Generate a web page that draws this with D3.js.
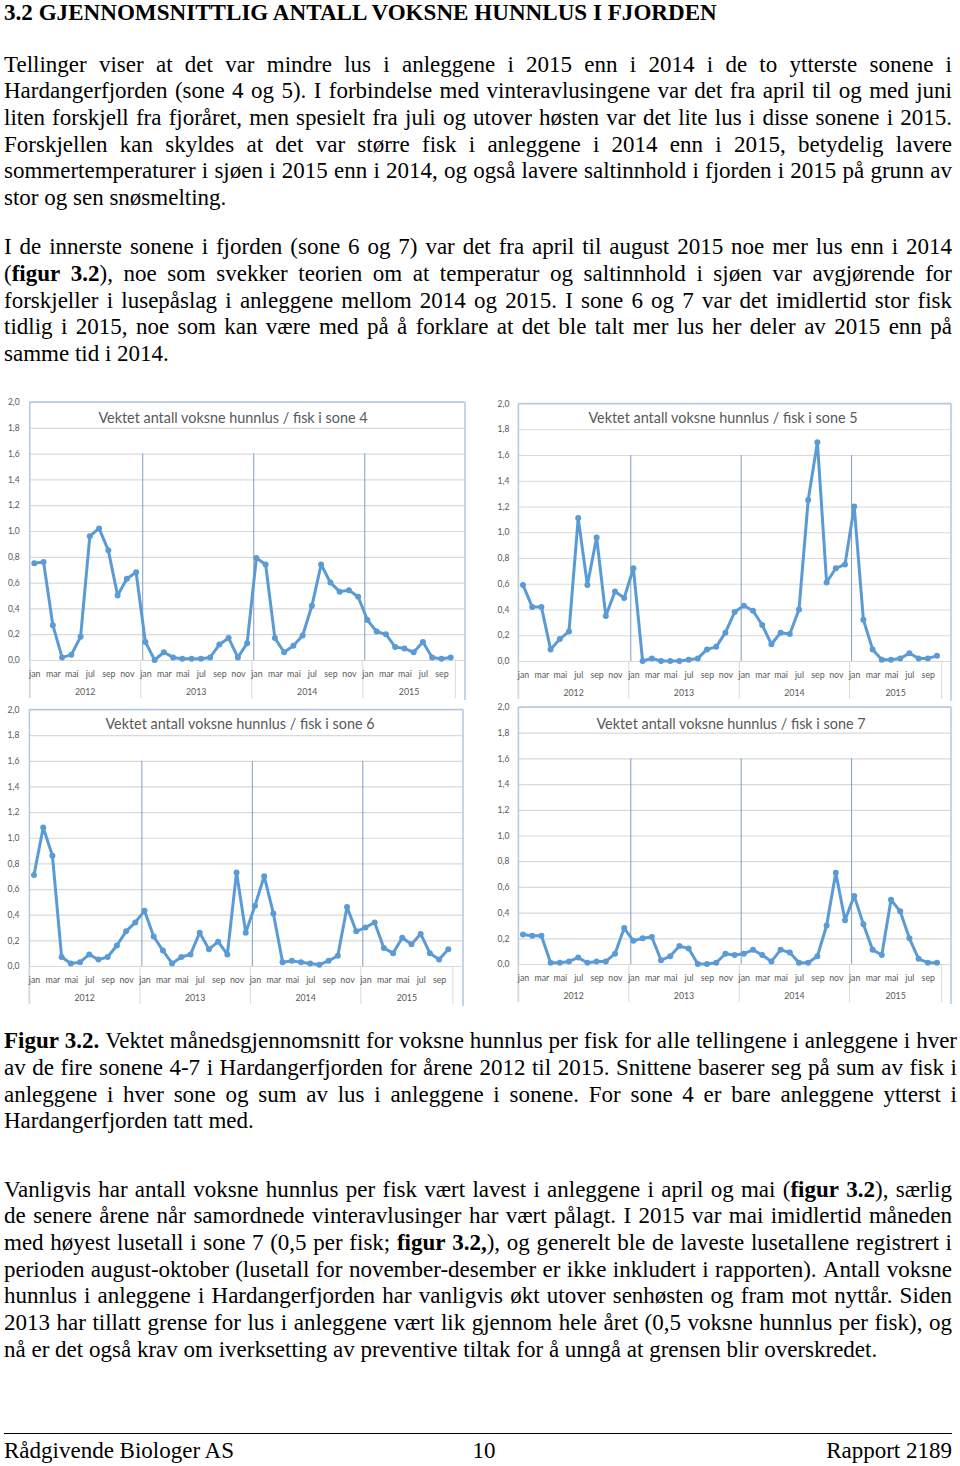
<!DOCTYPE html>
<html><head><meta charset="utf-8">
<script src="https://cdn.jsdelivr.net/npm/d3@7"></script>
<style>body{margin:0;background:#fff}svg{display:block}</style>
</head><body>
<script>
// ---------------- DATA ----------------
const monthNames = ["jan","feb","mar","apr","mai","jun","jul","aug","sep","okt","nov","des"];
const years = ["2012","2013","2014","2015"];
const monthsPerYear = [12,12,12,10];
const yTicks = [0,0.2,0.4,0.6,0.8,1.0,1.2,1.4,1.6,1.8,2.0];
const zones = ["4","5","6","7"];

const sone4 = [0.75,0.76,0.27,0.02,0.04,0.18,0.96,1.02,0.85,0.50,0.63,0.68,
               0.14,0.00,0.06,0.02,0.01,0.01,0.01,0.02,0.12,0.17,0.02,0.13,
               0.79,0.74,0.17,0.06,0.11,0.19,0.42,0.74,0.60,0.53,0.54,0.49,
               0.31,0.22,0.20,0.10,0.09,0.06,0.14,0.02,0.01,0.02];
const sone5 = [0.59,0.42,0.42,0.09,0.17,0.23,1.11,0.59,0.96,0.35,0.54,0.49,
               0.72,0.00,0.02,0.00,0.00,0.00,0.01,0.02,0.09,0.11,0.22,0.38,
               0.43,0.39,0.28,0.13,0.22,0.21,0.40,1.25,1.70,0.61,0.72,0.75,
               1.20,0.32,0.09,0.01,0.01,0.02,0.06,0.02,0.02,0.04];
const sone6 = [0.71,1.08,0.86,0.07,0.02,0.03,0.09,0.05,0.07,0.16,0.27,0.34,
               0.43,0.23,0.12,0.02,0.07,0.09,0.26,0.13,0.19,0.09,0.73,0.26,
               0.47,0.70,0.41,0.03,0.04,0.03,0.02,0.01,0.04,0.08,0.46,0.27,
               0.30,0.34,0.14,0.10,0.22,0.17,0.25,0.10,0.05,0.13];
const sone7 = [0.23,0.22,0.22,0.01,0.01,0.02,0.05,0.01,0.02,0.02,0.08,0.28,
               0.18,0.20,0.21,0.03,0.06,0.14,0.12,0.00,0.00,0.01,0.08,0.07,
               0.08,0.11,0.07,0.02,0.11,0.09,0.01,0.01,0.06,0.30,0.71,0.34,
               0.53,0.31,0.11,0.07,0.50,0.41,0.20,0.04,0.01,0.01];
const seriesList = [sone4, sone5, sone6, sone7];

// ---------------- TEXT ----------------
const heading = "3.2 GJENNOMSNITTLIG ANTALL VOKSNE HUNNLUS I FJORDEN";
const para1 = [
  [["Tellinger viser at det var mindre lus i anleggene i 2015 enn i 2014 i de to ytterste sonene i",0]],
  [["Hardangerfjorden (sone 4 og 5). I forbindelse med vinteravlusingene var det fra april til og med juni",0]],
  [["liten forskjell fra fjoråret, men spesielt fra juli og utover høsten var det lite lus i disse sonene i 2015.",0]],
  [["Forskjellen kan skyldes at det var større fisk i anleggene i 2014 enn i 2015, betydelig lavere",0]],
  [["sommertemperaturer i sjøen i 2015 enn i 2014, og også lavere saltinnhold i fjorden i 2015 på grunn av",0]],
  [["stor og sen snøsmelting.",0]]
];
const para2 = [
  [["I de innerste sonene i fjorden (sone 6 og 7) var det fra april til august 2015 noe mer lus enn i 2014",0]],
  [["(",0],["figur 3.2",1],["), noe som svekker teorien om at temperatur og saltinnhold i sjøen var avgjørende for",0]],
  [["forskjeller i lusepåslag i anleggene mellom 2014 og 2015. I sone 6 og 7 var det imidlertid stor fisk",0]],
  [["tidlig i 2015, noe som kan være med på å forklare at det ble talt mer lus her deler av 2015 enn på",0]],
  [["samme tid i 2014.",0]]
];
const caption = [
  [["Figur 3.2.",1],[" Vektet månedsgjennomsnitt for voksne hunnlus per fisk for alle tellingene i anleggene i hver",0]],
  [["av de fire sonene 4-7 i Hardangerfjorden for årene 2012 til 2015. Snittene baserer seg på sum av fisk i",0]],
  [["anleggene i hver sone og sum av lus i anleggene i sonene. For sone 4 er bare anleggene ytterst i",0]],
  [["Hardangerfjorden tatt med.",0]]
];
const para3 = [
  [["Vanligvis har antall voksne hunnlus per fisk vært lavest i anleggene i april og mai (",0],["figur 3.2",1],["), særlig",0]],
  [["de senere årene når samordnede vinteravlusinger har vært pålagt. I 2015 var mai imidlertid måneden",0]],
  [["med høyest lusetall i sone 7 (0,5 per fisk; ",0],["figur 3.2,",1],["), og generelt ble de laveste lusetallene registrert i",0]],
  [["perioden august-oktober (lusetall for november-desember er ikke inkludert i rapporten). Antall voksne",0]],
  [["hunnlus i anleggene i Hardangerfjorden har vanligvis økt utover senhøsten og fram mot nyttår. Siden",0]],
  [["2013 har tillatt grense for lus i anleggene vært lik gjennom hele året (0,5 voksne hunnlus per fisk), og",0]],
  [["nå er det også krav om iverksetting av preventive tiltak for å unngå at grensen blir overskredet.",0]]
];
const footerLeft = "Rådgivende Biologer AS", footerMid = "10", footerRight = "Rapport 2189";

// ---------------- LAYOUT ----------------
const W = 960, H = 1466;
const serif = "'Liberation Serif','Times New Roman',serif";
const chartFont = "Lato, 'Open Sans', sans-serif";
const panels = [
  {left:29.7, axisRight:455.3, right:465, top:402,   bottom:660,   titleX:233, titleY:423, pad:10},
  {left:518.4,axisRight:941.6, right:951, top:403.5, bottom:661,   titleX:723, titleY:423, pad:9},
  {left:29.4, axisRight:452.9, right:463, top:709.5, bottom:966,   titleX:240, titleY:729, pad:10},
  {left:518.4,axisRight:941.6, right:951, top:707,   bottom:964,   titleX:731, titleY:729, pad:9}
];

const svg = d3.select("body").append("svg").attr("width",W).attr("height",H)
  .attr("viewBox",`0 0 ${W} ${H}`);
svg.append("rect").attr("width",W).attr("height",H).attr("fill","#fff");

// ---------- text helper ----------
function drawLine(parts, x0, y, right, justify, size) {
  const words = []; let cur = [];
  parts.forEach(([t,b]) => {
    t.split(" ").forEach((p,i) => {
      if (i>0 && cur.length) { words.push(cur); cur = []; }
      if (p) cur.push({t:p,b:b});
    });
  });
  if (cur.length) words.push(cur);
  const text = svg.append("text").attr("y",y)
    .attr("font-family",serif).attr("font-size",size).attr("fill","#000");
  const wInfo = words.map(w => {
    const spans = w.map(pc => {
      const s = text.append("tspan").attr("font-weight", pc.b ? "bold" : "normal").text(pc.t);
      return {s, w: s.node().getComputedTextLength()};
    });
    return {spans, w: d3.sum(spans, d=>d.w)};
  });
  const space = size*0.25;
  const total = d3.sum(wInfo, d=>d.w);
  let gap = space;
  if (justify && wInfo.length>1) gap = Math.max(space*0.5, (right - x0 - total)/(wInfo.length-1));
  let x = x0;
  wInfo.forEach(wi => {
    wi.spans.forEach(sp => { sp.s.attr("x", x); x += sp.w; });
    x += gap;
  });
}
function drawPara(lines, y0, right, lh, size) {
  lines.forEach((ln,i) => drawLine(ln, 4, y0 + i*lh, right, i < lines.length-1, size));
}

svg.append("text").attr("x",4).attr("y",19.5).attr("font-family",serif).attr("font-size",23.1)
  .attr("font-weight","bold").text(heading);
drawPara(para1, 71.7, 952, 26.6, 23);
drawPara(para2, 254.3, 952, 26.67, 23);
drawPara(caption, 1048.3, 957, 26.67, 23);
drawPara(para3, 1196.7, 952, 26.67, 23);

svg.append("line").attr("x1",4).attr("x2",952).attr("y1",1433.5).attr("y2",1433.5)
  .attr("stroke","#000").attr("stroke-width",1);
const ft = svg.append("g").attr("font-family",serif).attr("font-size",23);
ft.append("text").attr("x",4).attr("y",1458).text(footerLeft);
ft.append("text").attr("x",484).attr("y",1458).attr("text-anchor","middle").text(footerMid);
ft.append("text").attr("x",952).attr("y",1458).attr("text-anchor","end").text(footerRight);

// ---------- charts ----------
const cats = [];
years.forEach((yr,yi) => { for (let m=0;m<monthsPerYear[yi];m++) cats.push({year:yr, m:monthNames[m], mi:m}); });
const n = cats.length;
const yearStart = []; { let s=0; monthsPerYear.forEach(c => { yearStart.push(s); s+=c; }); }
const fmt = d => d3.format(".1f")(d).replace(".",",");
const blue = "#5b9bd5", grid = "#d9d9d9", txt = "#595959";

panels.forEach((p,k) => {
  const data = seriesList[k];
  const g = svg.append("g");
  const x = d3.scaleLinear().domain([-0.5, n-0.5]).range([p.left, p.axisRight]);
  const y = d3.scaleLinear().domain([0,2]).range([p.bottom, p.top]);

  // gridlines + y labels
  g.append("g").attr("transform",`translate(${p.left},0)`)
    .call(d3.axisLeft(y).tickValues(yTicks).tickSize(-(p.right-p.left)).tickPadding(p.pad).tickFormat(fmt))
    .call(s => {
      s.select(".domain").remove();
      s.attr("font-family",chartFont).attr("font-size",8.5);
      s.selectAll("line").attr("stroke",grid).attr("stroke-width",1.2);
      s.selectAll("text").attr("fill",txt);
    });

  // frame
  const frame = "#b4c9df";
  g.append("line").attr("x1",p.left).attr("x2",p.right).attr("y1",p.top).attr("y2",p.top).attr("stroke",frame).attr("stroke-width",1.5);
  g.append("line").attr("x1",p.left).attr("x2",p.left).attr("y1",p.top).attr("y2",p.bottom+38).attr("stroke",frame).attr("stroke-width",1.5);
  g.append("line").attr("x1",p.right).attr("x2",p.right).attr("y1",p.top).attr("y2",p.bottom+40).attr("stroke",frame).attr("stroke-width",1.5);

  // year separators in plot
  yearStart.slice(1).forEach(s => {
    g.append("line").attr("x1",x(s-0.5)+2).attr("x2",x(s-0.5)+2)
      .attr("y1",y(1.6)).attr("y2",p.bottom).attr("stroke","#7f9fc2").attr("stroke-width",1);
  });
  // category separators below axis
  yearStart.concat([n]).forEach(s => {
    g.append("line").attr("x1",x(s-0.5)).attr("x2",x(s-0.5))
      .attr("y1",p.bottom).attr("y2",p.bottom+38).attr("stroke",grid).attr("stroke-width",1);
  });

  // month axis
  const tickIdx = d3.range(n).filter(i => cats[i].mi % 2 === 0);
  g.append("g").attr("transform",`translate(0,${p.bottom})`)
    .call(d3.axisBottom(x).tickValues(tickIdx).tickSize(0).tickPadding(10.5).tickFormat(i => cats[i].m))
    .call(s => {
      s.select(".domain").remove();
      s.attr("font-family",chartFont).attr("font-size",8.8);
      s.selectAll("text").attr("fill",txt);
    });
  // year labels
  years.forEach((yr,yi) => {
    const a = yearStart[yi], b = a + monthsPerYear[yi];
    g.append("text").attr("x",(x(a-0.5)+x(b-0.5))/2).attr("y",p.bottom+35)
      .attr("text-anchor","middle").attr("font-family",chartFont).attr("font-size",8.8)
      .attr("fill",txt).text(yr);
  });

  // line + markers
  g.append("path").datum(data)
    .attr("d", d3.line().x((d,i)=>x(i)).y(d=>y(d)))
    .attr("fill","none").attr("stroke",blue).attr("stroke-width",3).attr("stroke-linejoin","round");
  g.selectAll("circle.pt").data(data).join("circle").attr("class","pt")
    .attr("cx",(d,i)=>x(i)).attr("cy",d=>y(d)).attr("r",3).attr("fill",blue);

  // title
  g.append("text").attr("x",p.titleX).attr("y",p.titleY).attr("text-anchor","middle")
    .attr("font-family",chartFont).attr("font-size",14.4).attr("fill",txt)
    .text("Vektet antall voksne hunnlus / fisk i sone " + zones[k]);
});
</script>
</body></html>
